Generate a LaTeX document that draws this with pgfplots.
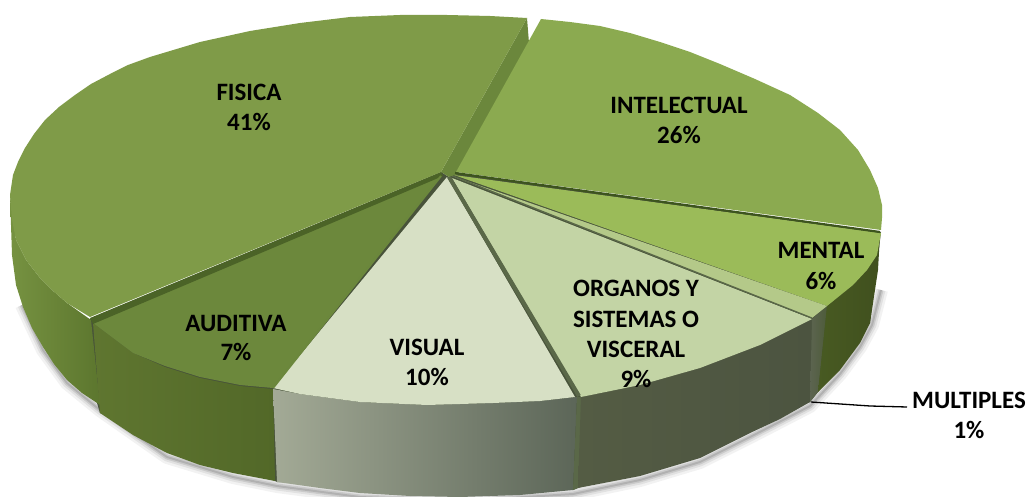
\documentclass[border=0pt]{standalone}
\usepackage{pgfplots}
\usepackage{pgfplotstable}
\pgfplotsset{compat=1.18}
\usepackage{fontspec}
\setmainfont{Carlito}
% top faces
\definecolor{fisicaT}{RGB}{127,155,72}
\definecolor{fisicaE}{RGB}{107,135,60}
\definecolor{intelT}{RGB}{139,170,80}
\definecolor{mentalT}{RGB}{155,187,89}
\definecolor{multT}{RGB}{180,201,137}
\definecolor{organT}{RGB}{195,212,165}
\definecolor{visualT}{RGB}{215,224,197}
\definecolor{auditT}{RGB}{108,136,60}
\definecolor{sepA}{RGB}{61,84,30}
\definecolor{sepB}{RGB}{90,104,72}
% side faces
\definecolor{fisL}{RGB}{118,146,65}
\definecolor{fisR}{RGB}{92,118,46}
\definecolor{audL}{RGB}{95,118,48}
\definecolor{audR}{RGB}{82,104,40}
\definecolor{visL}{RGB}{163,170,150}
\definecolor{visR}{RGB}{92,102,88}
\definecolor{orgL}{RGB}{84,92,68}
\definecolor{orgR}{RGB}{76,84,64}
\definecolor{mulL}{RGB}{92,100,80}
\definecolor{mulR}{RGB}{78,92,58}
\definecolor{menL}{RGB}{72,90,34}
\definecolor{menR}{RGB}{64,80,30}
\tikzset{lbl/.style={font=\fontsize{25}{29}\selectfont\bfseries, text=black, inner sep=0pt}}
\pgfplotstableread{
x y
22 305
43 350
67 383
100 410
167 457
233 477
277 486
360 497
460 501
573 494
640 480
700 462
750 437
810 406
840 374
860 347
872 325
881 290
}\shadowline
\begin{document}
\begin{tikzpicture}
\useasboundingbox (0,0) rectangle (1029pt,497pt);
\begin{axis}[
  at={(0,0)}, anchor=south west,
  scale only axis, width=1029pt, height=497pt,
  xmin=0, xmax=1029, ymin=0, ymax=497,
  y dir=reverse, hide axis, clip=false,
  every axis plot/.append style={line join=round},
]
% soft shadow under the pie
\addplot[draw=black, opacity=0.05, line width=14pt] table {\shadowline};
\addplot[draw=black, opacity=0.07, line width=9pt] table {\shadowline};
\addplot[draw=black, opacity=0.10, line width=5pt] table {\shadowline};
\addplot[draw=black, opacity=0.12, line width=2pt] table {\shadowline};
% dark underlay, so no white seams show between the faces
\addplot[draw=none, fill=sepB!80!black] coordinates {
  (441,172) (449,177) (456,173) (881,232) (870,323) (818,392) (810,402) (578,488) (573,490) (277,482) (275,481)
  (100,413) (97,403) (92,350) (87,320) (441,172)};
% side faces
\addplot[draw=none, shade, left color=fisL, right color=fisR] coordinates {
  (10,195) (16,240) (26,260) (40,278) (52,290) (67,303) (91,320) (100,405) (82,393) (67,380) (54,364)
  (43,347) (32,328) (23,307) (16,285) (12,255) (10,195)};
\addplot[draw=none, shade, left color=audL, right color=audR] coordinates {
  (93,323) (133,353) (165,367) (200,378) (240,386) (273,389) (275,481) (233,473) (200,465) (167,453) (133,435) (100,413) (93,323)};
\addplot[draw=none, shade, left color=visL, right color=visR] coordinates {
  (273,389) (300,394) (360,402) (427,405) (493,403) (540,401) (577,397) (573,490) (520,495) (460,497) (410,496) (360,493) (320,488) (277,482) (273,389)};
\addplot[draw=none, fill=sepB] coordinates {(577,397) (582,397) (578,488) (573,490) (577,397)};
\addplot[draw=none, shade, left color=orgL, right color=orgR] coordinates {
  (581,397) (640,385) (700,368) (760,345) (812,319) (810,402) (780,419) (750,433) (700,458) (640,476) (578,488) (581,397)};
\addplot[draw=none, shade, left color=mulL, right color=mulR] coordinates {
  (812,319) (827,306) (818,392) (810,402) (812,319)};
\addplot[draw=none, shade, left color=menL, right color=menR] coordinates {
  (827,306) (853,285) (867,270) (877,255) (880,234) (878,270) (870,323) (860,343) (840,370) (818,392) (827,306)};
% cut face of FISICA, behind the slice
\addplot[draw=none, fill=fisicaE] coordinates {(527,18) (529,43) (458,174) (449,177) (441,172) (527,18)};
% top faces
\addplot[draw=none, fill=auditT] coordinates {
  (441,176) (273,388) (240,385) (200,377) (165,366) (133,353) (93,323) (441,176)};
\addplot[draw=none, fill=sepA!70!fisicaE] coordinates {(441,172) (443,176) (93,324) (90,318) (441,172)};
\addplot[draw=none, fill=fisicaT] coordinates {
  (441,172) (527,18) (490,16) (447,15) (400,15) (350,17) (300,23) (250,31) (200,42) (150,57) (128,65) (110,74) (91,84) (75,95)
  (59,107) (45,120) (34,134) (25,148) (18,162) (13,175) (10,195) (12,220) (16,240) (26,260) (40,278) (52,290) (67,303) (90,317) (441,172)};
\addplot[draw=none, fill=intelT] coordinates {
  (456,172) (541,19) (570,22) (600,26) (630,33) (660,42) (690,52) (720,64) (755,79) (790,95) (818,113) (840,130) (858,150)
  (870,170) (878,188) (882,205) (882,218) (881,230) (456,172)};
\addplot[draw=none, fill=mentalT] coordinates {
  (454,175) (881,233) (877,255) (867,270) (853,285) (827,306) (454,175)};
\addplot[draw=none, fill=multT] coordinates {(452,176) (827,306) (812,318) (452,176)};
\addplot[draw=none, fill=organT] coordinates {
  (452,178) (812,319) (760,345) (700,368) (640,385) (581,397) (452,178)};
\addplot[draw=none, fill=visualT] coordinates {
  (447,177) (575,397) (540,401) (493,403) (427,405) (360,402) (300,394) (273,388) (447,177)};
% separators
\addplot[draw=sepA, line width=2.2pt] coordinates {(455,173) (880,232)};
\addplot[draw=sepB, line width=1.2pt] coordinates {(453,176) (812,318)};
\addplot[draw=sepB, line width=4pt] coordinates {(449,177) (579,396)};
\addplot[draw=fisicaE, line width=2pt] coordinates {(441,176) (273,388)};
% leader line
\addplot[draw=black, line width=1.3pt] coordinates {(811,402) (870,406) (907,407)};
% labels
\node[lbl] at (axis cs:249,92) {FISICA};
\node[lbl] at (axis cs:249,122) {41\%};
\node[lbl] at (axis cs:679,105) {INTELECTUAL};
\node[lbl] at (axis cs:679,135) {26\%};
\node[lbl] at (axis cs:821,250) {MENTAL};
\node[lbl] at (axis cs:821,281) {6\%};
\node[lbl] at (axis cs:636,288) {ORGANOS Y};
\node[lbl] at (axis cs:636,319) {SISTEMAS O};
\node[lbl] at (axis cs:636,349) {VISCERAL};
\node[lbl] at (axis cs:636,379) {9\%};
\node[lbl] at (axis cs:236,323) {AUDITIVA};
\node[lbl] at (axis cs:236,352) {7\%};
\node[lbl] at (axis cs:427,347) {VISUAL};
\node[lbl] at (axis cs:427,377) {10\%};
\node[lbl] at (axis cs:969,400) {MULTIPLES};
\node[lbl] at (axis cs:969,430) {1\%};
\end{axis}
\end{tikzpicture}
\end{document}
